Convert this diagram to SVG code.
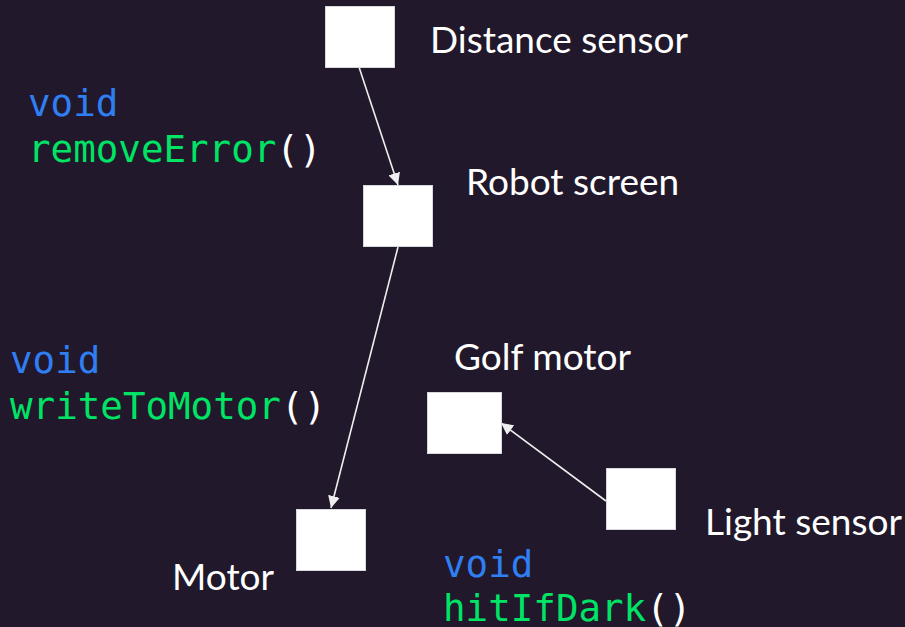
<svg xmlns="http://www.w3.org/2000/svg" width="905" height="627" viewBox="0 0 905 627">
  <defs>
    <marker id="arrow" viewBox="0 0 10 10" refX="10" refY="5" markerWidth="12" markerHeight="12" markerUnits="userSpaceOnUse" orient="auto">
      <path d="M0,0 L10,5 L0,10 z" fill="#eeeeee"/>
    </marker>
    <style>
      .box { fill: #ffffff; stroke: #d8d8dc; stroke-width: 1; }
      .label { font-family: Lato, "Liberation Sans", sans-serif; font-size: 37px; fill: #ffffff; }
      .code { font-family: "DejaVu Sans Mono", "Liberation Mono", monospace; font-size: 37.5px; }
      .kw { fill: #2f7ff3; }
      .fn { fill: #00e466; }
      .punc { fill: #ffffff; }
      .edge { stroke: #eeeeee; stroke-width: 1.6; fill: none; marker-end: url(#arrow); }
    </style>
  </defs>
  <rect width="905" height="627" fill="#21192b"/>

  <!-- code annotations -->
  <text class="code" x="28" y="116"><tspan class="kw">void</tspan></text>
  <text class="code" x="28" y="162"><tspan class="fn">removeError</tspan><tspan class="punc">()</tspan></text>
  <text class="code" x="10" y="373"><tspan class="kw">void</tspan></text>
  <text class="code" x="10" y="419"><tspan class="fn">writeToMotor</tspan><tspan class="punc">()</tspan></text>
  <text class="code" x="443" y="577"><tspan class="kw">void</tspan></text>
  <text class="code" x="443" y="621"><tspan class="fn">hitIfDark</tspan><tspan class="punc">()</tspan></text>

  <!-- connectors -->
  <g id="connectors">
    <line class="edge" x1="359" y1="67" x2="398" y2="185"/>
    <line class="edge" x1="398" y1="247" x2="331" y2="508"/>
    <line class="edge" x1="606" y1="501" x2="501" y2="423"/>
  </g>

  <!-- nodes -->
  <g id="distance-sensor">
    <rect class="box" x="325.5" y="6.5" width="69" height="61"/>
    <text class="label" x="430" y="53">Distance sensor</text>
  </g>
  <g id="robot-screen">
    <rect class="box" x="363.5" y="185.5" width="69" height="61"/>
    <text class="label" x="466" y="195">Robot screen</text>
  </g>
  <g id="golf-motor">
    <rect class="box" x="427.5" y="392.5" width="74" height="61"/>
    <text class="label" x="454" y="370">Golf motor</text>
  </g>
  <g id="light-sensor">
    <rect class="box" x="606.5" y="468.5" width="69" height="61"/>
    <text class="label" x="705" y="535">Light sensor</text>
  </g>
  <g id="motor">
    <rect class="box" x="296.5" y="509.5" width="69" height="61"/>
    <text class="label" x="172" y="590">Motor</text>
  </g>
</svg>
